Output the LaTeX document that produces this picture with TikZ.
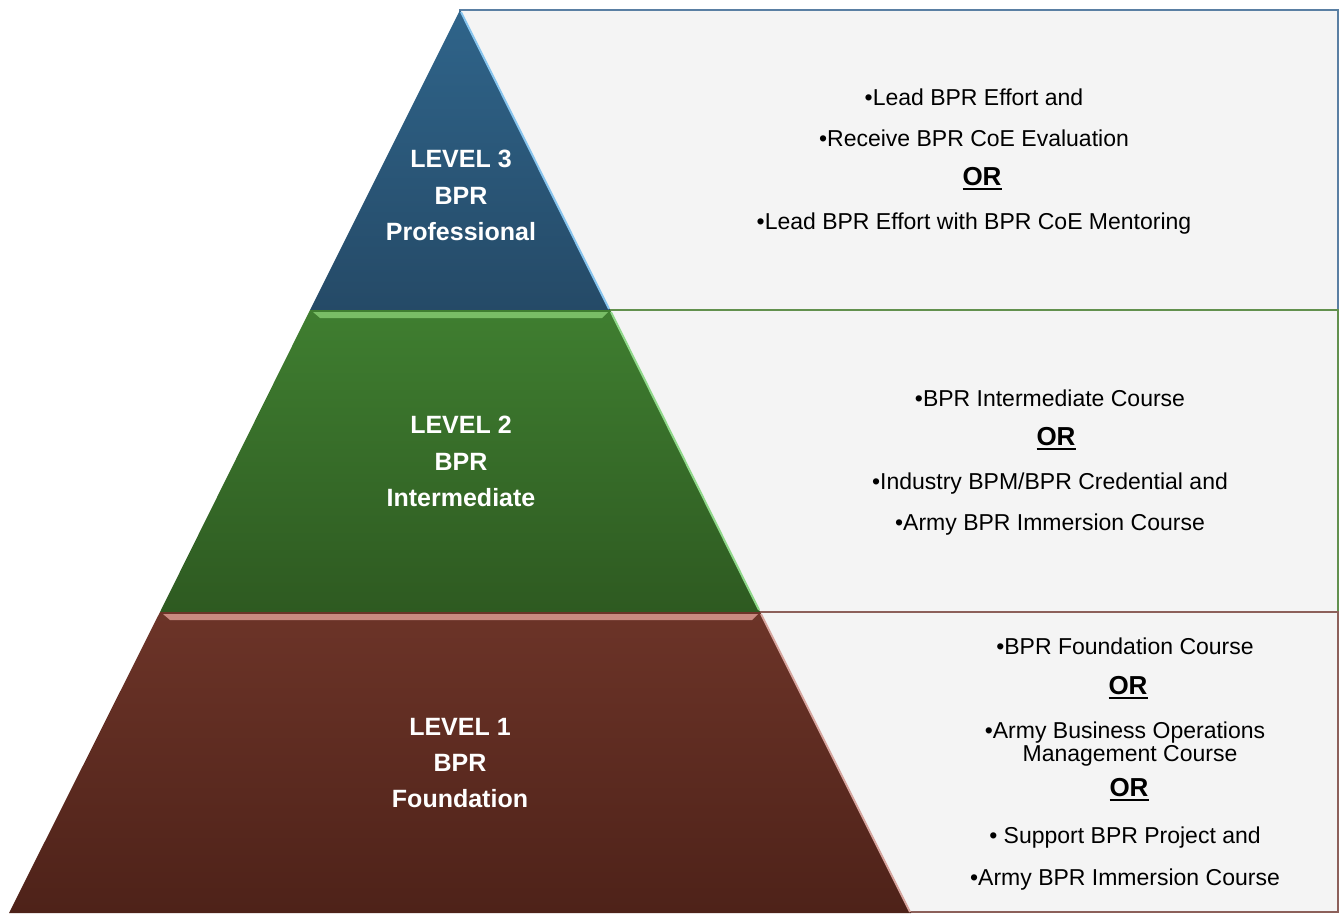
\documentclass[tikz,border=0pt]{standalone}
\usepackage{fontspec}
\setmainfont{Liberation Sans}
\usetikzlibrary{positioning}
\definecolor{lthreetop}{HTML}{2F648A}
\definecolor{lthreebot}{HTML}{254A67}
\definecolor{ltwotop}{HTML}{3F7E30}
\definecolor{ltwobot}{HTML}{2E5A21}
\definecolor{lonetop}{HTML}{6C3428}
\definecolor{lonebot}{HTML}{4E2219}
\definecolor{boxfill}{HTML}{F4F4F4}
\definecolor{boxblue}{HTML}{5A7FA3}
\definecolor{boxgreen}{HTML}{62904E}
\definecolor{boxbrown}{HTML}{8C605A}
\definecolor{edgeblue}{HTML}{86C4EE}
\definecolor{edgegreen}{HTML}{8FD88A}
\definecolor{edgebrown}{HTML}{D7A59E}
\definecolor{bevgreen}{HTML}{79BD66}
\definecolor{bevbrown}{HTML}{C98A80}
\newcommand\uor{\setbox0\hbox{OR}\rlap{\rule[-5pt]{\wd0}{2.6pt}}\box0}

\begin{document}
\begin{tikzpicture}[x=1pt, y=-1pt, line width=.1ex,
  lvl/.style={font=\bfseries\fontsize{25}{30}\selectfont, text=white, inner sep=0pt, text height=18pt, text depth=0pt},
  item/.style={font=\fontsize{23}{27}\selectfont, inner sep=0pt, text height=16.5pt, text depth=0pt},
  ortxt/.style={font=\bfseries\fontsize{26}{30}\selectfont, inner sep=0pt, text height=18.6pt, text depth=0pt}]
\useasboundingbox (0,0) rectangle (1341,913);%%
%% boxes behind the pyramid
\draw[boxblue, line width=1.4pt, fill=boxfill] (460,10) rectangle (1338,310);%%
\draw[boxgreen, line width=1.4pt, fill=boxfill] (610,310) rectangle (1338,612);%%
\draw[boxbrown, line width=1.4pt, fill=boxfill] (760,612) rectangle (1338,912);%%
%% pyramid
\shade[top color=lthreetop, bottom color=lthreebot] (460,10) -- (610,310) -- (310,310) -- cycle;%%
\shade[top color=ltwotop, bottom color=ltwobot] (310,310) -- (610,310) -- (760,612) -- (160,612) -- cycle;%%
\shade[top color=lonetop, bottom color=lonebot] (160,612) -- (760,612) -- (911,913) -- (9,913) -- cycle;%%
\fill[bevgreen] (313,312) -- (608,312) -- (602,318) -- (320,318) -- cycle;%%
\fill[bevbrown] (163,614) -- (758,614) -- (752,620) -- (170,620) -- cycle;%%
\draw[line width=2pt, edgeblue] (461,12) -- (609,309);%%
\draw[line width=2pt, edgegreen] (611,312) -- (759,610);%%
\draw[line width=2pt, edgebrown] (761,614) -- (910,912);%%
%% level labels
\node[lvl] (lthreea) at (461,158) {LEVEL 3};%%
\node[lvl] (lthreeb) at (461,195) {BPR};%%
\node[lvl] (lthreec) at (461,231) {Professional};%%
\node[lvl] (ltwoa) at (461,424) {LEVEL 2};%%
\node[lvl] (ltwob) at (461,461) {BPR};%%
\node[lvl] (ltwoc) at (461,497) {Intermediate};%%
\node[lvl] (lonea) at (460,726) {LEVEL 1};%%
\node[lvl] (loneb) at (460,762) {BPR};%%
\node[lvl] (lonec) at (460,798) {Foundation};%%
%% requirements
\node[item] (rthreea) at (974,97) {\textbullet Lead BPR Effort and};%%
\node[item] (rthreeb) at (974,138) {\textbullet Receive BPR CoE Evaluation};%%
\node[ortxt] (rthreeor) at (982,176) {\uor};%%
\node[item] (rthreec) at (974,221) {\textbullet Lead BPR Effort with BPR CoE Mentoring};%%
\node[item] (rtwoa) at (1050,398) {\textbullet BPR Intermediate Course};%%
\node[ortxt] (rtwoor) at (1056,436) {\uor};%%
\node[item] (rtwob) at (1050,481) {\textbullet Industry BPM/BPR Credential and};%%
\node[item] (rtwoc) at (1050,522) {\textbullet Army BPR Immersion Course};%%
\node[item] (ronea) at (1125,646) {\textbullet BPR Foundation Course};%%
\node[ortxt] (roneor) at (1128,685) {\uor};%%
\node[item] (roneb) at (1125,730) {\textbullet Army Business Operations};%%
\node[item] (ronec) at (1130,753) {Management Course};%%
\node[ortxt] (roneortwo) at (1129,787) {\uor};%%
\node[item] (roned) at (1125,835) {\textbullet\ Support BPR Project and};%%
\node[item] (ronee) at (1125,877) {\textbullet Army BPR Immersion Course};%%
\end{tikzpicture}
\end{document}
